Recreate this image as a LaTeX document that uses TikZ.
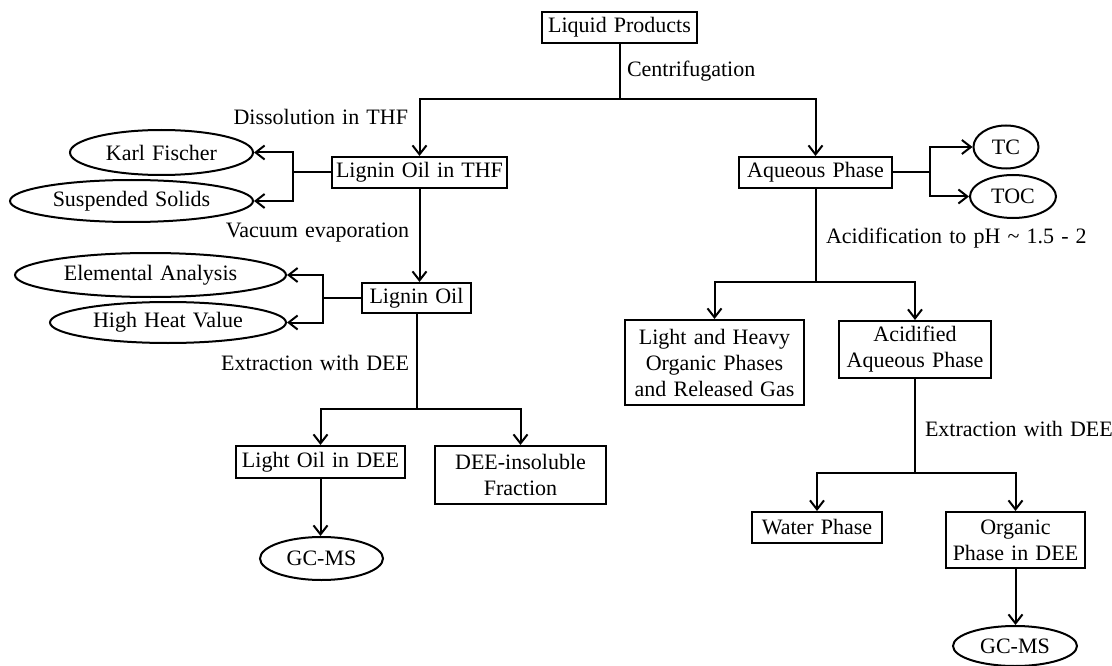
\documentclass[tikz,border=0pt]{standalone}
\usepackage{fontspec}
\setmainfont[WordSpace=1.3]{Liberation Serif}
\usetikzlibrary{arrows.meta,shapes.geometric}
\begin{document}
\begin{tikzpicture}[x=1pt,y=-1pt,
  font=\fontsize{22}{26}\selectfont,
  line width=2pt,
  box/.style={draw, rectangle, inner sep=0pt, align=center},
  oval/.style={draw, ellipse, inner sep=0pt},
  lbl/.style={inner sep=0pt},
  arr/.style={-{Straight Barb[length=9pt,width=14pt,line width=2pt]}}]
\useasboundingbox (0,0) rectangle (1112,666);

% boxes
\node[box, minimum width=155pt, minimum height=31pt] (lp)  at (619.5,27.5) {Liquid Products};
\node[box, minimum width=175pt, minimum height=31pt] (thf) at (419.5,172.5) {Lignin Oil in THF};
\node[box, minimum width=153pt, minimum height=31pt] (aq)  at (815.5,172.5) {Aqueous Phase};
\node[box, minimum width=109pt, minimum height=30pt] (lo)  at (416.5,298) {Lignin Oil};
\node[box, minimum width=169pt, minimum height=32pt] (lod) at (320.5,462) {Light Oil in DEE};
\node[box, minimum width=171pt, minimum height=58pt] (ins) at (520.5,475) {DEE-insoluble\\Fraction};
\node[box, minimum width=179pt, minimum height=85pt] (lh)  at (714.5,362.5) {Light and Heavy\\Organic Phases\\and Released Gas};
\node[box, minimum width=152pt, minimum height=57pt] (aa)  at (915,349.5) {Acidified\\Aqueous Phase};
\node[box, minimum width=130pt, minimum height=31pt] (wp)  at (817,527.5) {Water Phase};
\node[box, minimum width=139pt, minimum height=56pt] (od)  at (1015.5,540) {Organic\\Phase in DEE};

% ovals
\node[oval, minimum width=183pt, minimum height=45pt] (kf)  at (161.5,152.5) {Karl Fischer};
\node[oval, minimum width=243pt, minimum height=42pt] (ss)  at (131.5,201) {Suspended Solids};
\node[oval, minimum width=271pt, minimum height=44pt] (ea)  at (150.5,275) {Elemental Analysis};
\node[oval, minimum width=236pt, minimum height=41pt] (hhv) at (168,322.5) {High Heat Value};
\node[oval, minimum width=123pt, minimum height=43pt] (gc1) at (321.5,558.5) {GC-MS};
\node[oval, minimum width=65pt, minimum height=43pt]  (tc)  at (1006,147) {TC};
\node[oval, minimum width=86pt, minimum height=43pt]  (toc) at (1013,196.5) {TOC};
\node[oval, minimum width=124pt, minimum height=40pt] (gc2) at (1015,646) {GC-MS};

% labels
\node[lbl, anchor=west] (lcen) at (626,71) {Centrifugation};
\node[lbl, anchor=east] (ldis) at (409,117) {Dissolution in THF};
\node[lbl, anchor=east] (lvac) at (410,233) {Vacuum evaporation};
\node[lbl, anchor=east] (lex1) at (410,363) {Extraction with DEE};
\node[lbl, anchor=west] (lacd) at (825,238) {Acidification to pH \textasciitilde{} 1.5 - 2};
\node[lbl, anchor=west] (lex2) at (924,429) {Extraction with DEE};

% junction levels
\coordinate (h1) at (0,99);
\coordinate (h2) at (0,409);
\coordinate (h3) at (0,282);
\coordinate (h4) at (0,473);
\coordinate (v1) at (293,0);
\coordinate (v2) at (323,0);
\coordinate (v3) at (930,0);

% connectors
\draw (lp.south) -- (lp.south |- h1);
\draw[arr] (lp.south |- h1) -| (thf.north);
\draw[arr] (lp.south |- h1) -| (aq.north);

\draw (thf.west) -- (thf.west -| v1);
\draw[arr] (thf.west -| v1) |- (kf.east);
\draw[arr] (thf.west -| v1) |- (ss.east);
\draw[arr] (thf.south) -- (thf.south |- lo.north);

\draw (lo.west) -- (lo.west -| v2);
\draw[arr] (lo.west -| v2) |- (ea.east);
\draw[arr] (lo.west -| v2) |- (hhv.east);

\draw (lo.south) -- (lo.south |- h2);
\draw[arr] (lo.south |- h2) -| (lod.north);
\draw[arr] (lo.south |- h2) -| (ins.north);
\draw[arr] (lod.south) -- (lod.south |- gc1.north);

\draw (aq.east) -- (aq.east -| v3);
\draw[arr] (aq.east -| v3) |- (tc.west);
\draw[arr] (aq.east -| v3) |- (toc.west);

\draw (aq.south) -- (aq.south |- h3);
\draw[arr] (aq.south |- h3) -| (lh.north);
\draw[arr] (aq.south |- h3) -| (aa.north);

\draw (aa.south) -- (aa.south |- h4);
\draw[arr] (aa.south |- h4) -| (wp.north);
\draw[arr] (aa.south |- h4) -| (od.north);
\draw[arr] (od.south) -- (od.south |- gc2.north);
\end{tikzpicture}
\end{document}
